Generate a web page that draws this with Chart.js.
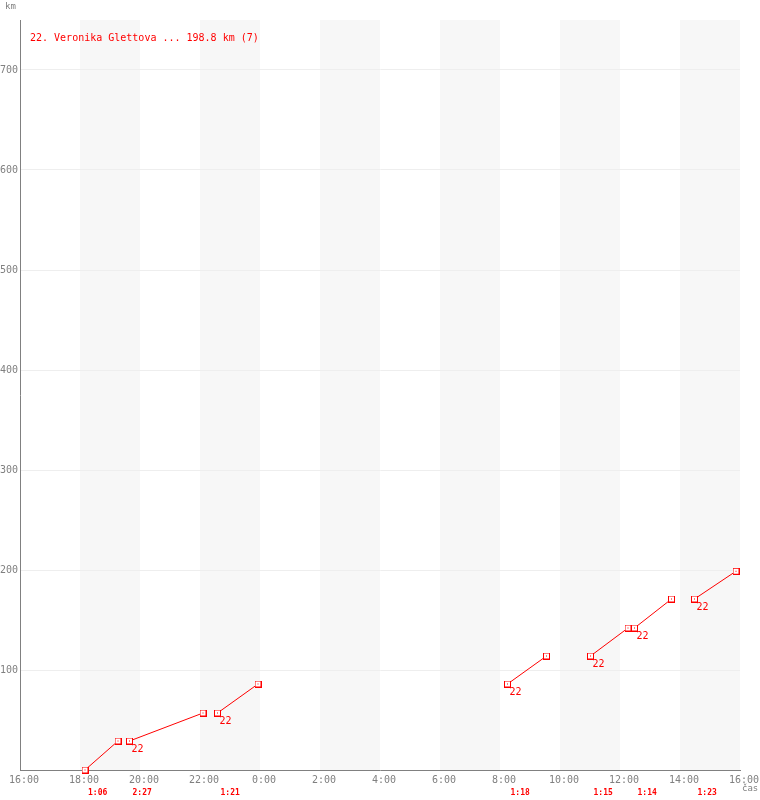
<!DOCTYPE html>
<html>
<head>
<meta charset="utf-8">
<script src="https://cdn.jsdelivr.net/npm/chart.js@4"></script>
<style>
  body { margin: 0; background: #fff; }
  #wrap { width: 760px; height: 800px; }
</style>
</head>
<body>
<div id="wrap"><canvas id="chart" width="760" height="800"></canvas></div>
<script>
// segments of the race: start/end clock time and km
const startTimes = ["18:10", "19:39", "22:35", "8:15", "11:01", "12:29", "14:29"];
const endTimes = ["19:16", "22:06", "23:56", "9:33", "12:16", "13:43", "15:52"];
const startKm = [0, 29, 57, 86, 114, 142, 171];
const endKm = [29, 57, 86, 114, 142, 171, 198.8];
const durations = ["1:06", "2:27", "1:21", "1:18", "1:15", "1:14", "1:23"];
const runnerNo = "22";
const titleText = "22. Veronika Glettova ... 198.8 km (7)";
const xTickLabels = ["16:00", "18:00", "20:00", "22:00", "0:00", "2:00", "4:00", "6:00",
  "8:00", "10:00", "12:00", "14:00", "16:00"];
const yTickValues = [100, 200, 300, 400, 500, 600, 700];

const RED = "#ff0000";
const GREY = "#808080";
const MONO = "'DejaVu Sans Mono', 'Liberation Mono', monospace";

// hours after 16:00
function toHours(t) {
  const p = t.split(":");
  let h = +p[0] + (+p[1]) / 60;
  if (h < 16) h += 24;
  return h - 16;
}

// square marker with a dot in the middle
const marker = document.createElement("canvas");
marker.width = 7; marker.height = 7;
(function () {
  const c = marker.getContext("2d");
  c.fillStyle = "#fff";
  c.fillRect(0, 0, 7, 7);
  c.strokeStyle = RED;
  c.lineWidth = 1;
  c.strokeRect(0.5, 0.5, 6, 6);
  c.fillStyle = RED;
  c.fillRect(3, 3, 1, 1);
})();

const datasets = startTimes.map((s, i) => ({
  data: [{ x: toHours(s), y: startKm[i] }, { x: toHours(endTimes[i]), y: endKm[i] }],
  borderColor: RED,
  borderWidth: 1,
  pointStyle: marker,
  pointRadius: 3,
  showLine: true,
  fill: false,
  tension: 0,
  clip: false,
}));

const extras = {
  id: "extras",
  beforeDraw(chart) {
    const ctx = chart.ctx, a = chart.chartArea, x = chart.scales.x;
    ctx.save();
    ctx.fillStyle = "#f7f7f7";
    for (let h = 2; h < 24; h += 4) {
      const x0 = x.getPixelForValue(h), x1 = x.getPixelForValue(h + 2);
      ctx.fillRect(x0, a.top, x1 - x0, a.bottom - a.top);
    }
    ctx.restore();
  },
  afterDatasetsDraw(chart) {
    const ctx = chart.ctx, a = chart.chartArea, x = chart.scales.x, y = chart.scales.y;
    ctx.save();
    ctx.textBaseline = "middle";
    ctx.textAlign = "left";
    // runner number under each segment start
    ctx.fillStyle = RED;
    ctx.font = "10px " + MONO;
    startTimes.forEach((s, i) => {
      if (i === 0) return;
      ctx.fillText(runnerNo, x.getPixelForValue(toHours(s)) + 2, y.getPixelForValue(startKm[i]) + 8);
    });
    // segment durations under the axis
    ctx.font = "bold 8px " + MONO;
    startTimes.forEach((s, i) => {
      ctx.fillText(durations[i], x.getPixelForValue(toHours(s)) + 3, 793);
    });
    // title
    ctx.font = "10px " + MONO;
    ctx.fillText(titleText, 30, 38);
    // axis names
    ctx.fillStyle = GREY;
    ctx.font = "9px " + MONO;
    ctx.fillText("km", 5, 7);
    ctx.fillText("čas", a.right + 2, 789);
    ctx.restore();
  }
};

new Chart(document.getElementById("chart"), {
  type: "scatter",
  data: { datasets },
  options: {
    responsive: false,
    animation: false,
    layout: { padding: { top: 20, right: 20, left: 0, bottom: 0 } },
    plugins: { legend: { display: false }, tooltip: { enabled: false } },
    scales: {
      x: {
        type: "linear",
        min: 0, max: 24,
        grid: { display: false, drawTicks: false },
        border: { display: true, color: GREY, width: 1 },
        ticks: {
          stepSize: 2,
          padding: 4,
          labelOffset: 4,
          color: GREY,
          font: { family: MONO, size: 10 },
          maxRotation: 0,
          callback: (v) => xTickLabels[v / 2],
        },
        afterFit(s) { s.height = 30; s.paddingLeft = 0; s.paddingRight = 0; },
      },
      y: {
        min: 0, max: 750,
        grid: { color: "#eeeeee", drawTicks: false },
        border: { display: true, color: GREY, width: 1 },
        ticks: {
          stepSize: 100,
          padding: 2,
          color: GREY,
          font: { family: MONO, size: 10 },
        },
        afterBuildTicks(s) { s.ticks = yTickValues.map(v => ({ value: v })); },
        afterFit(s) { s.width = 20; s.paddingTop = 0; s.paddingBottom = 0; },
      },
    },
  },
  plugins: [extras],
});
</script>
</body>
</html>
